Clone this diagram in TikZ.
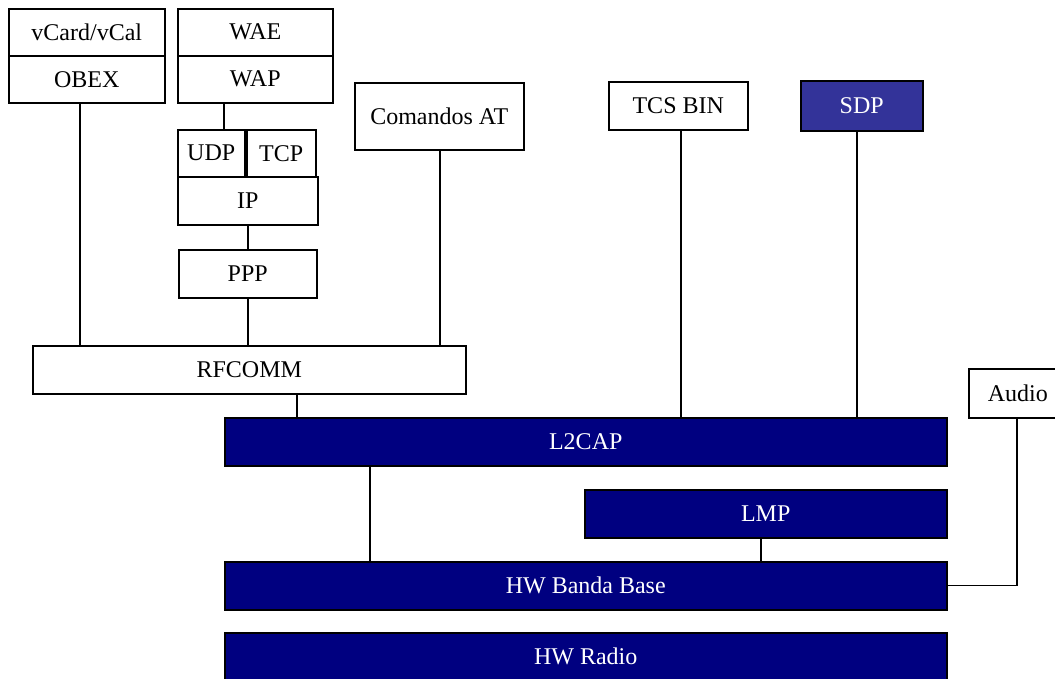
\documentclass[tikz,border=0pt]{standalone}
\usepackage{fontspec}
\setmainfont{Liberation Serif}
\definecolor{stacknavy}{HTML}{000080}
\definecolor{sdpblue}{HTML}{333399}
\begin{document}
\begin{tikzpicture}[x=1pt,y=-1pt,
  layer/.style={draw=black, line width=1.5pt, inner sep=0pt, anchor=north west,
    font=\fontsize{24}{28}\selectfont, fill=white, text=black},
  hwlayer/.style={layer, fill=stacknavy, text=white},
  link/.style={draw=black, line width=1.3pt}]
\useasboundingbox (0,0) rectangle (1055,678);
\clip (0,0) rectangle (1055,678);

% upper protocol stack
\node[layer, minimum width=156, minimum height=47] (vcard) at (8,8) {vCard/vCal};
\node[layer, minimum width=156, minimum height=47] (obex) at (8,55) {OBEX};
\node[layer, minimum width=155, minimum height=47] (wae) at (177,8) {WAE};
\node[layer, minimum width=155, minimum height=47] (wap) at (177,55) {WAP};
\node[layer, minimum width=67, minimum height=47] (udp) at (177,129) {UDP};
\node[layer, minimum width=69, minimum height=47] (tcp) at (246,129) {TCP};
\node[layer, minimum width=140, minimum height=48] (ip) at (177,176) {IP};
\node[layer, minimum width=138, minimum height=48] (ppp) at (178,249) {PPP};
\node[layer, minimum width=169, minimum height=67] (atcmd) at (354,82) {Comandos AT};
\node[layer, minimum width=139, minimum height=48] (tcs) at (608,81) {TCS BIN};
\node[layer, fill=sdpblue, text=white, minimum width=122, minimum height=50] (sdp) at (800,80) {SDP};
\node[layer, minimum width=433, minimum height=48] (rfcomm) at (32,345) {RFCOMM};
\node[layer, minimum width=98, minimum height=49] (audio) at (968,368) {Audio};

% lower (hardware) layers
\node[hwlayer, minimum width=722, minimum height=48] (l2cap) at (224,417) {L2CAP};
\node[hwlayer, minimum width=362, minimum height=48] (lmp) at (584,489) {LMP};
\node[hwlayer, minimum width=722, minimum height=48] (hwbb) at (224,561) {HW Banda Base};
\node[hwlayer, minimum width=722, minimum height=48] (hwr) at (224,632) {HW Radio};

% x positions of the vertical links
\coordinate (xobex) at (80,0);
\coordinate (xwap) at (224,0);
\coordinate (xppp) at (248,0);
\coordinate (xat) at (440,0);
\coordinate (xrf) at (297,0);
\coordinate (xtcs) at (681,0);
\coordinate (xsdp) at (857,0);
\coordinate (xl2) at (370,0);
\coordinate (xlmp) at (761,0);
\coordinate (xaudio) at (1017,0);

\draw[link] (obex.south -| xobex) -- (rfcomm.north -| xobex);
\draw[link] (wap.south -| xwap) -- (udp.north -| xwap);
\draw[link] (ip.south -| xppp) -- (ppp.north -| xppp);
\draw[link] (ppp.south -| xppp) -- (rfcomm.north -| xppp);
\draw[link] (atcmd.south -| xat) -- (rfcomm.north -| xat);
\draw[link] (rfcomm.south -| xrf) -- (l2cap.north -| xrf);
\draw[link] (tcs.south -| xtcs) -- (l2cap.north -| xtcs);
\draw[link] (sdp.south -| xsdp) -- (l2cap.north -| xsdp);
\draw[link] (l2cap.south -| xl2) -- (hwbb.north -| xl2);
\draw[link] (lmp.south -| xlmp) -- (hwbb.north -| xlmp);
\draw[link] (audio.south -| xaudio) |- (hwbb.east);
\end{tikzpicture}
\end{document}
